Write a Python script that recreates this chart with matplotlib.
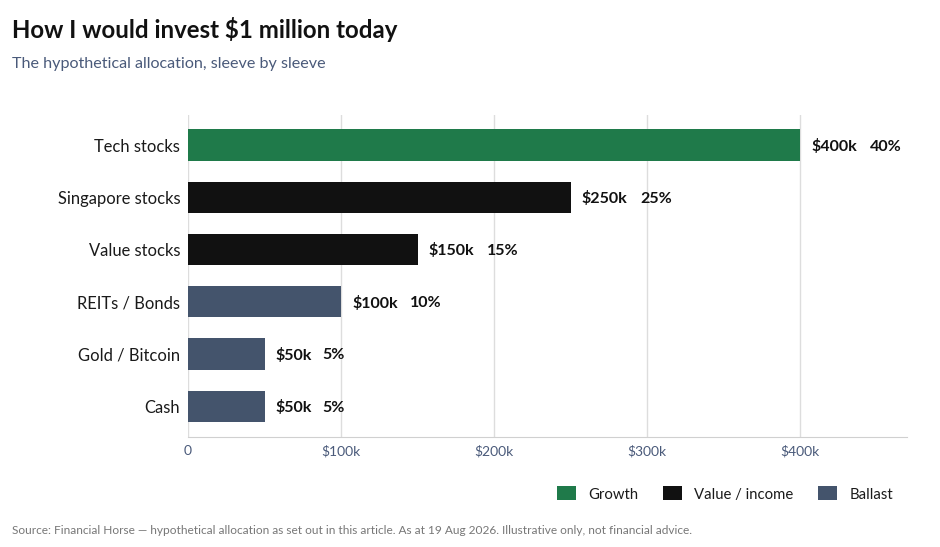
import matplotlib
matplotlib.use("Agg")
import matplotlib.pyplot as plt
from matplotlib.patches import Patch

plt.rcParams['font.family'] = ['Lato', 'DejaVu Sans']

categories = ["Tech stocks", "Singapore stocks", "Value stocks", "REITs / Bonds", "Gold / Bitcoin", "Cash"]
values_k = [400, 250, 150, 100, 50, 50]
percents = [40, 25, 15, 10, 5, 5]
groups = ["Growth", "Value / income", "Value / income", "Ballast", "Ballast", "Ballast"]
group_colors = {"Growth": "#1f7a4a", "Value / income": "#111111", "Ballast": "#44546c"}
ticks = [0, 100, 200, 300, 400]
tick_labels = ["0", "$100k", "$200k", "$300k", "$400k"]

fig = plt.figure(figsize=(9.4, 5.47), dpi=100)
ax = fig.add_axes([0.2, 0.2011, 0.765, 0.5887])

ypos = list(range(len(categories)))
ax.barh(ypos, values_k, height=0.6, color=[group_colors[g] for g in groups], zorder=3)
ax.set_ylim(len(categories) - 0.41, -0.575)
ax.set_xlim(0, 470)
ax.set_yticks(ypos)
ax.set_yticklabels(categories, fontsize=11.9, color="#1a1a1a")
ax.set_xticks(ticks)
ax.set_xticklabels(tick_labels, fontsize=10, color="#4a5a7a")
ax.tick_params(axis='both', length=0, pad=6)
ax.tick_params(axis='y', pad=5.5)
ax.grid(axis='x', color="#dddddd", linewidth=1, zorder=0)
for s in ["top", "right", "left"]:
    ax.spines[s].set_visible(False)
ax.spines["bottom"].set_color("#d0d0d0")

for y, v, p in zip(ypos, values_k, percents):
    ax.annotate(f"${v}k", xy=(v, y), xytext=(8, 0), textcoords="offset points",
                va="center_baseline", ha="left", fontsize=11.5, fontweight="bold", color="#111111")
    ax.annotate(f"{p}%", xy=(v, y), xytext=(50 if v >= 100 else 42, 0), textcoords="offset points",
                va="center_baseline", ha="left", fontsize=11.5, fontweight="bold", color="#111111")

fig.text(12/940, 1 - 29/547, "How I would invest $1 million today", fontsize=17.3, fontweight="bold",
         color="#111111", va="center", ha="left")
fig.text(12/940, 1 - 64/547, "The hypothetical allocation, sleeve by sleeve", fontsize=11.6,
         color="#4a5a7a", va="center", ha="left")
fig.text(12/940, 1 - 530/547,
         "Source: Financial Horse \u2014 hypothetical allocation as set out in this article. As at 19 Aug 2026. Illustrative only, not financial advice.",
         fontsize=8.6, color="#777777", va="center", ha="left")

handles = [Patch(facecolor=group_colors[g], edgecolor="none", label=g) for g in ["Growth", "Value / income", "Ballast"]]
fig.legend(handles=handles, loc="center right", bbox_to_anchor=(893/940, 1 - 494/547), ncol=3,
           frameon=False, fontsize=10.7, handlelength=1.28, handleheight=1.07, columnspacing=1.68,
           handletextpad=0.8, labelcolor="#1a1a1a", borderpad=0, borderaxespad=0)

fig.savefig("out.png", dpi=100)
